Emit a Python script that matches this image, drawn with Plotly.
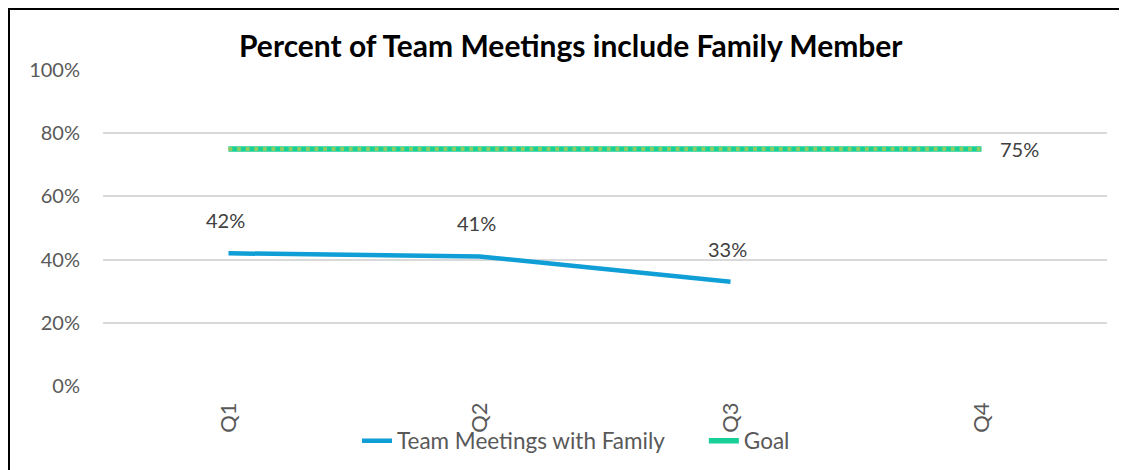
import plotly.graph_objects as go

quarters = ["Q1", "Q2", "Q3", "Q4"]
team_values = [0.42, 0.41, 0.33, None]
goal_values = [0.75, 0.75, 0.75, 0.75]
team_labels = ["42%", "41%", "33%", None]
goal_label = "75%"
y_ticks = [0, 0.2, 0.4, 0.6, 0.8, 1.0]
y_tick_text = ["0%", "20%", "40%", "60%", "80%", "100%"]
series_names = ["Team Meetings with Family", "Goal"]

# page body has an 8px margin; the figure is sized so it fits the window
OFF = 8
W, H = 1127 - OFF, 470 - OFF
ML, MR, MT, MB = 103 - OFF, 20, 70 - OFF, 84
pw, ph = W - ML - MR, H - MT - MB

def px2paper_x(px):  # screen px
    return (px - OFF - ML) / pw

def px2paper_y(py):  # screen px
    return (H - MB - (py - OFF)) / ph

font_family = "Lato, 'Open Sans', sans-serif"
grey = "#595959"

fig = go.Figure()
fig.add_trace(go.Scatter(
    x=quarters, y=team_values, mode="lines",
    name=series_names[0] + "\u00a0" * 6,
    line=dict(color="#0F9ED5", width=4.5), connectgaps=False, hoverinfo="skip"))
fig.add_trace(go.Scatter(
    x=quarters, y=goal_values, mode="lines", name=series_names[1],
    line=dict(color="#17CF97", width=5.5), hoverinfo="skip"))
fig.add_trace(go.Scatter(
    x=quarters, y=goal_values, mode="lines", showlegend=False,
    line=dict(color="#8ECC62", width=3.8, dash="3.8px,4.8px"), hoverinfo="skip"))

annotations = []
for q, v, t in zip(quarters, team_values, team_labels):
    if v is None:
        continue
    annotations.append(dict(x=q, y=v, text=t, showarrow=False, yshift=33,
                            xshift=-3,
                            font=dict(family=font_family, size=20, color="#404040")))
annotations.append(dict(x=quarters[-1], y=goal_values[-1], text=goal_label,
                        showarrow=False, xanchor="left", xshift=16, yshift=0,
                        font=dict(family=font_family, size=20, color="#404040")))
annotations.append(dict(x=px2paper_x(571), y=px2paper_y(45),
                        xref="paper", yref="paper",
                        text="<b>Percent of Team Meetings include Family Member</b>",
                        showarrow=False, xanchor="center", yanchor="middle",
                        font=dict(family=font_family, size=30, color="black")))

fig.update_layout(
    width=W, height=H,
    margin=dict(l=ML, r=MR, t=MT, b=MB, autoexpand=False),
    paper_bgcolor="white", plot_bgcolor="white",
    font=dict(family=font_family, size=20, color=grey),
    showlegend=True,
    legend=dict(orientation="h", x=px2paper_x(576), xanchor="center", y=px2paper_y(441),
                yanchor="middle", font=dict(family=font_family, size=22.5, color=grey),
                tracegroupgap=0, bgcolor="rgba(0,0,0,0)"),
    xaxis=dict(type="category", tickangle=-90, showgrid=False, zeroline=False,
               showline=False, ticks="", tickfont=dict(size=22, color=grey),
               ticklabelstandoff=11, range=[-0.5, 3.5], automargin=False),
    yaxis=dict(range=[0, 1.0], tickvals=y_ticks, ticktext=y_tick_text,
               showgrid=True, gridcolor="#D9D9D9", gridwidth=1.5, zeroline=False,
               showline=False, ticks="", ticklabelstandoff=22, automargin=False,
               tickfont=dict(size=20, color=grey)),
    annotations=annotations,
    shapes=[dict(type="rect", xref="paper", yref="paper",
                 x0=px2paper_x(9), x1=px2paper_x(1300),
                 y0=px2paper_y(9), y1=px2paper_y(700),
                 line=dict(color="black", width=2), fillcolor="rgba(0,0,0,0)",
                 layer="above")],
)

fig.write_html("out.html")
